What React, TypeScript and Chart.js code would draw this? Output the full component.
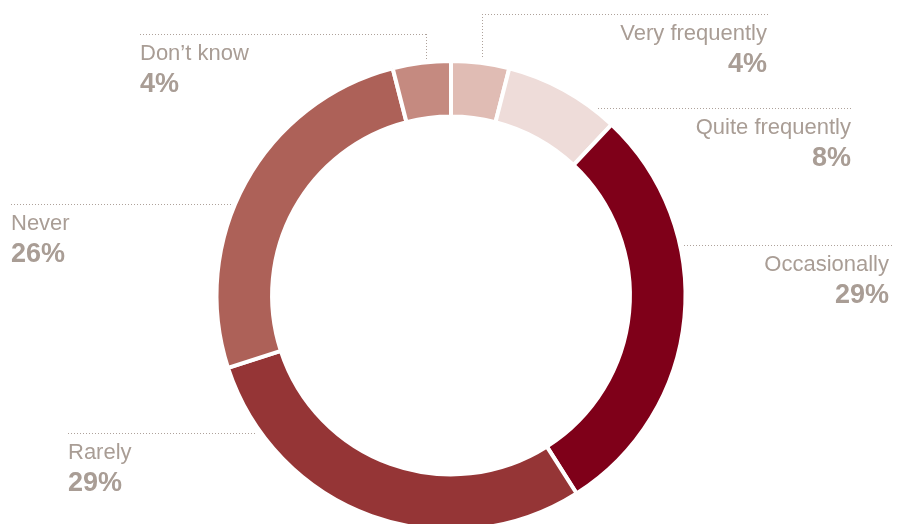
import React, { useEffect, useRef } from "react";
import { Chart, registerables } from "chart.js";

Chart.register(...registerables);

// ---- data ----
const CATEGORIES = ["Very frequently", "Quite frequently", "Occasionally", "Rarely", "Never", "Don\u2019t know"];
const VALUES = [4, 8, 29, 29, 26, 4];
const PERCENT_LABELS = ["4%", "8%", "29%", "29%", "26%", "4%"];

// ---- styles ----
const COLORS = ["#e0bcb4", "#eedcd9", "#7f0019", "#953536", "#ad6158", "#c58a80"];
const TEXT_COLOR = "#a99d95";
const LINE_COLOR = "#aea29b";

// ---- label layout (callout positions, canvas px) ----
type Layout = {
  align: "left" | "right";
  textX: number;
  lineY: number;
  lineX1: number;
  lineX2: number;
  dropX?: number;
  dropTo?: number;
};
const LABEL_LAYOUT: Layout[] = [
  { align: "right", textX: 767, lineY: 14, lineX1: 482, lineX2: 769, dropX: 482, dropTo: 59 },
  { align: "right", textX: 851, lineY: 108, lineX1: 598, lineX2: 852 },
  { align: "right", textX: 889, lineY: 245, lineX1: 684, lineX2: 893 },
  { align: "left", textX: 68, lineY: 433, lineX1: 68, lineX2: 256 },
  { align: "left", textX: 11, lineY: 204, lineX1: 11, lineX2: 231 },
  { align: "left", textX: 140, lineY: 34, lineX1: 140, lineX2: 426, dropX: 426, dropTo: 59 },
];

const calloutPlugin = {
  id: "callouts",
  afterDraw(chart: any) {
    const ctx: CanvasRenderingContext2D = chart.ctx;
    ctx.save();
    LABEL_LAYOUT.forEach((l, i) => {
      // dotted leader lines
      ctx.strokeStyle = LINE_COLOR;
      ctx.lineWidth = 1;
      ctx.setLineDash([1, 2]);
      ctx.beginPath();
      ctx.moveTo(l.lineX1, l.lineY + 0.5);
      ctx.lineTo(l.lineX2, l.lineY + 0.5);
      if (l.dropX !== undefined && l.dropTo !== undefined) {
        ctx.moveTo(l.dropX + 0.5, l.lineY);
        ctx.lineTo(l.dropX + 0.5, l.dropTo);
      }
      ctx.stroke();
      ctx.setLineDash([]);
      // text
      ctx.fillStyle = TEXT_COLOR;
      ctx.textAlign = l.align;
      ctx.textBaseline = "alphabetic";
      ctx.font = '22px "Liberation Sans", Arial, sans-serif';
      ctx.fillText(CATEGORIES[i], l.textX, l.lineY + 26);
      ctx.font = 'bold 27px "Liberation Sans", Arial, sans-serif';
      ctx.fillText(PERCENT_LABELS[i], l.textX, l.lineY + 58);
    });
    ctx.restore();
  },
};

export default function App() {
  const ref = useRef<HTMLCanvasElement | null>(null);
  useEffect(() => {
    if (!ref.current) return;
    const chart = new Chart(ref.current, {
      type: "doughnut",
      data: {
        labels: CATEGORIES,
        datasets: [
          {
            data: VALUES,
            backgroundColor: COLORS,
            borderColor: "#ffffff",
            borderWidth: 4,
            hoverOffset: 0,
          },
        ],
      },
      options: {
        responsive: false,
        animation: false,
        devicePixelRatio: 1,
        radius: 234.5,
        cutout: "76.3%",
        rotation: 0,
        layout: { padding: 0 },
        plugins: {
          legend: { display: false },
          tooltip: { enabled: false },
        },
        events: [],
      } as any,
      plugins: [calloutPlugin],
    });
    return () => chart.destroy();
  }, []);
  return (
    <div
      style={{
        position: "fixed",
        left: 0,
        top: 0,
        width: 902,
        height: 524,
        overflow: "hidden",
        background: "#ffffff",
      }}
    >
      <canvas ref={ref} width={902} height={591} style={{ display: "block", width: 902, height: 591 }} />
    </div>
  );
}
